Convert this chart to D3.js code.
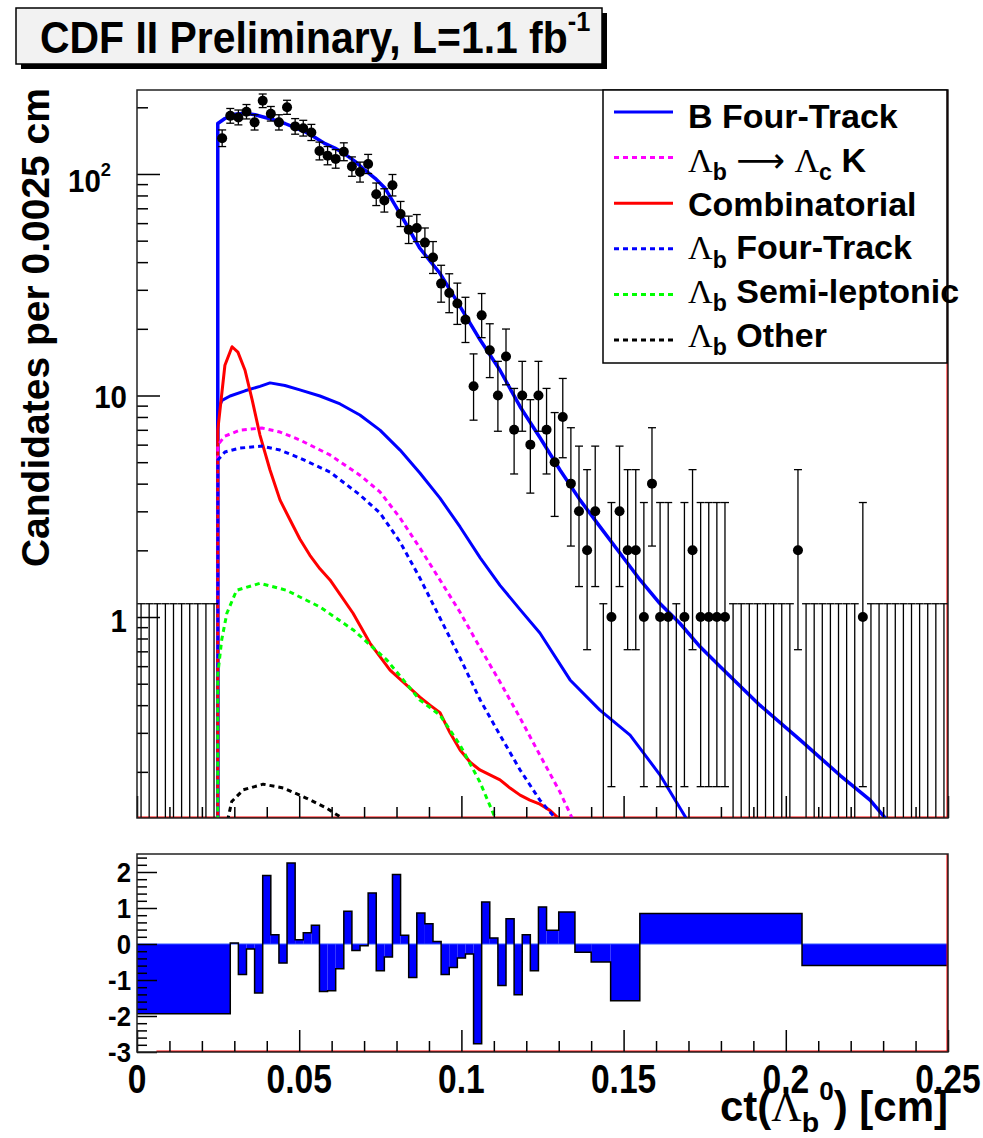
<!DOCTYPE html>
<html><head><meta charset="utf-8">
<script src="https://cdn.jsdelivr.net/npm/d3@7"></script>
<style>
body{margin:0;background:#fff;}
svg{display:block;font-family:"Liberation Sans",Arial,Helvetica,sans-serif;font-weight:bold;}
</style></head><body>
<svg id="c" width="983" height="1138"></svg>
<script>
// ---- measured counts per 0.0025 cm bin (100 bins, 0 to 0.25 cm) ----
const binWidth = 0.0025;
const counts = [0,0,0,0,0,0,0,0,0,0,
  145,183,180,191,171,214,187,171,200,164,
  161,154,127,121,117,126,108,102,111,81,
  76,89,66,56,57,49,42,32,29,26,
  22,11,23,16,10,15,7,10,6,10,
  7,5,8,4,3,2,3,0,1,3,
  2,2,1,4,1,1,0,1,2,1,
  1,1,1,0,0,0,0,0,0,0,
  0,2,0,0,0,0,0,0,0,1,
  0,0,0,0,0,0,0,0,0,0];
const zeroUpper = 1.148;   // one-sided upper limit drawn for empty bins

// ---- fit components: [ct (cm), candidates per bin] ----
const fitTotal = [[0.0249,0.1],[0.0249,169],[0.0271,178],[0.0302,186],[0.0333,188],[0.0364,185],[0.0395,180],[0.0425,175],[0.0456,169],[0.0487,162],[0.0518,155],[0.0549,146],[0.0580,137],[0.0610,131],[0.0641,123],[0.0672,114],[0.0703,104],[0.0734,95.6],[0.0765,86.2],[0.0795,72.5],[0.0826,60.7],[0.0872,46.2],[0.0934,35.6],[0.0996,25.2],[0.1058,17.8],[0.1119,13.0],[0.1181,8.9],[0.1242,6.46],[0.1304,4.61],[0.1366,3.37],[0.1427,2.56],[0.1489,1.94],[0.1551,1.47],[0.1612,1.15],[0.1674,0.935],[0.1736,0.734],[0.1798,0.597],[0.192,0.40],[0.2044,0.279],[0.2167,0.193],[0.226,0.149],[0.2306,0.124],[0.232,0.1]];
const fitBFourTrack = [[0.0249,0.1],[0.0249,8.6],[0.0262,9.5],[0.0287,9.95],[0.0333,10.5],[0.0379,11.0],[0.0410,11.4],[0.0456,11.1],[0.0502,10.6],[0.0564,9.95],[0.0626,9.16],[0.0687,8.17],[0.0749,6.98],[0.0811,5.67],[0.0872,4.47],[0.0934,3.44],[0.0996,2.55],[0.1058,1.85],[0.1119,1.39],[0.1181,1.08],[0.1242,0.847],[0.1335,0.52],[0.1427,0.38],[0.1520,0.293],[0.1612,0.194],[0.1692,0.124],[0.170,0.1]];
const fitLcK = [[0.0249,0.1],[0.0249,5.98],[0.0271,6.56],[0.0318,6.98],[0.0385,7.13],[0.0441,6.84],[0.0502,6.30],[0.0595,5.39],[0.0687,4.37],[0.0749,3.67],[0.0811,2.80],[0.0872,2.05],[0.0934,1.47],[0.0996,1.05],[0.1058,0.724],[0.1119,0.509],[0.1181,0.350],[0.1242,0.238],[0.1304,0.162],[0.1341,0.124],[0.135,0.1]];
const fitComb = [[0.0249,0.1],[0.0249,6.98],[0.0271,13.7],[0.0293,16.6],[0.0311,15.7],[0.0333,13.0],[0.0355,9.55],[0.0379,6.63],[0.0410,4.61],[0.0441,3.37],[0.0472,2.74],[0.0502,2.25],[0.0533,1.9],[0.0564,1.65],[0.0595,1.47],[0.0666,1.04],[0.0718,0.763],[0.0780,0.576],[0.0872,0.435],[0.0903,0.40],[0.0934,0.37],[0.0965,0.30],[0.0996,0.251],[0.1027,0.221],[0.1057,0.204],[0.1088,0.194],[0.1119,0.184],[0.1150,0.169],[0.1181,0.157],[0.1211,0.149],[0.1242,0.143],[0.1273,0.134],[0.1298,0.124],[0.131,0.1]];
const fitLbFourTrack = [[0.0249,0.1],[0.0249,5.11],[0.0271,5.56],[0.0318,5.79],[0.0385,5.91],[0.0441,5.67],[0.0502,5.22],[0.0595,4.51],[0.0687,3.56],[0.0749,2.95],[0.0811,2.18],[0.0872,1.50],[0.0934,0.99],[0.0996,0.653],[0.1058,0.422],[0.1119,0.293],[0.1181,0.204],[0.1242,0.149],[0.1289,0.124],[0.13,0.1]];
const fitSemiLep = [[0.0249,0.1],[0.0249,0.55],[0.0261,0.787],[0.0277,1.04],[0.0307,1.32],[0.0379,1.42],[0.0461,1.32],[0.0564,1.11],[0.0667,0.874],[0.0770,0.64],[0.0872,0.422],[0.0934,0.361],[0.0996,0.264],[0.1057,0.180],[0.1104,0.124],[0.111,0.1]];
const fitOther = [[0.0278,0.1],[0.0281,0.124],[0.0292,0.147],[0.0328,0.166],[0.0389,0.176],[0.0451,0.169],[0.0523,0.152],[0.0585,0.137],[0.0631,0.124],[0.064,0.1]];

// ---- residuals (variable bins) ----
const resEdges = [0,0.02875,0.03125,0.03375,0.03625,0.03875,0.04125,0.04375,0.04625,0.04875,0.05125,
  0.05375,0.05625,0.05875,0.06125,0.06375,0.06625,0.06875,0.07125,0.07375,0.07625,
  0.07875,0.08125,0.08375,0.08625,0.08875,0.09125,0.09375,0.09625,0.09875,0.10125,
  0.10375,0.10625,0.10875,0.11125,0.11375,0.11625,0.11875,0.12125,0.12375,0.12625,
  0.13,0.135,0.14,0.146,0.155,0.205,0.25];
const resValues = [-1.94,0.03,-0.85,-0.14,-1.36,1.90,0.26,-0.53,2.25,0.12,
  0.31,0.52,-1.32,-1.30,-0.69,0.91,-0.18,-0.05,1.42,-0.74,
  -0.36,1.93,0.24,-0.93,0.86,0.56,0.07,-0.85,-0.65,-0.39,
  -0.28,-2.77,1.17,0.17,-1.15,0.70,-1.41,0.26,-0.74,1.03,
  0.38,0.89,-0.23,-0.50,-1.575,0.85,-0.60];

// ---- axis ticks & labels ----
const xMajor = [0,0.05,0.1,0.15,0.2,0.25];
const xMajorLabels = ["0","0.05","0.1","0.15","0.2","0.25"];
const yDecades = [1,10,100];
const yMinorMult = [2,3,4,5,6,7,8,9];
const resMajor = [-3,-2,-1,0,1,2];
const resMajorLabels = ["-3","-2","-1","0","1","2"];

// ---- legend ----
const legendLabels = [
  [["B Four-Track"]],
  [["Λ","g"],["b","sub"],[" "],["⟶","arrow"],[" "],["Λ","g"],["c","sub"],[" K"]],
  [["Combinatorial"]],
  [["Λ","g"],["b","sub"],[" Four-Track"]],
  [["Λ","g"],["b","sub"],[" Semi-leptonic"]],
  [["Λ","g"],["b","sub"],[" Other"]]
];
const legendColors = ["#0000ff","#ff00ff","#ff0000","#0000ff","#00ff00","#000000"];
const legendDashed = [false,true,false,true,true,true];

// ---------------- drawing ----------------
const svg = d3.select("#c");
const M = {l:137, r:948, t:90, b:818};
const R = {l:137, r:948, t:854, b:1052};

const x = d3.scaleLinear().domain([0,0.25]).range([M.l, M.r]);
const y = d3.scaleLog().domain([0.1238,239.4]).range([M.b, M.t]);
const yr = d3.scaleLinear().domain([-3,2.5]).range([R.b, R.t]);

svg.append("rect").attr("width",983).attr("height",1138).attr("fill","#fff");

const defs = svg.append("defs");
defs.append("clipPath").attr("id","clipMain").append("rect")
  .attr("x",M.l).attr("y",M.t).attr("width",M.r-M.l).attr("height",M.b-M.t);
defs.append("clipPath").attr("id","clipRes").append("rect")
  .attr("x",R.l).attr("y",R.t).attr("width",R.r-R.l).attr("height",R.b-R.t);

// rich text helper: parts = [[text, kind], ...]; sx condenses horizontally
function richText(parent, px, py, size, parts, anchor, sx, subShift){
  const g = parent.append("g").attr("transform",`translate(${px},${py})`);
  const t = g.append("text").attr("font-size",size).attr("text-anchor",anchor||"start");
  let shift = 0;
  parts.forEach(([s,kind])=>{
    const ts = t.append("tspan").text(s);
    let target = 0;
    if(kind==="sub"){ ts.attr("font-size",size*0.68); target = size*(subShift||0.36); }
    else if(kind==="sup"){ ts.attr("font-size",size*0.62); target = -size*0.5; }
    else if(kind==="g"){ ts.attr("font-family","'Liberation Serif','DejaVu Serif',serif").attr("font-weight","normal"); }
    else if(kind==="arrow"){ ts.attr("font-family","'DejaVu Sans',sans-serif").attr("font-weight","normal"); }
    if(target!==shift){ ts.attr("dy",target-shift); shift = target; }
  });
  if(sx) t.attr("transform",`scale(${sx},1)`);
  return g;
}

// ---------- main pad ----------
const main = svg.append("g");
const plot = main.append("g").attr("clip-path","url(#clipMain)");

// red edge of combinatorial histogram along bottom and right side
plot.append("path").attr("d",`M${x(0)},${M.b-0.5}H${x(0.25)-0.5}V${M.t}`)
  .attr("fill","none").attr("stroke","#ff0000").attr("stroke-width",2);

const line = d3.line().x(d=>x(d[0])).y(d=>y(d[1]));
function curve(data,color,w,dash){
  const p = plot.append("path").datum(data).attr("d",line)
    .attr("fill","none").attr("stroke",color).attr("stroke-width",w)
    .attr("stroke-linejoin","round");
  if(dash) p.attr("stroke-dasharray",dash);
}
curve(fitTotal,"#0000ff",3.5);
curve(fitBFourTrack,"#0000ff",3);
curve(fitComb,"#ff0000",3);
curve(fitLcK,"#ff00ff",3,"5,4");
curve(fitLbFourTrack,"#0000ff",3,"5,4");
curve(fitSemiLep,"#00ff00",3,"5,4");
curve(fitOther,"#000000",3,"5,4");

// Poisson (Garwood) intervals
function poisLo(n){ if(n===0) return 0; const a=1-1/(9*n)-1/(3*Math.sqrt(n)); return n*a*a*a; }
function poisHi(n){ if(n===0) return zeroUpper; const m=n+1; const a=1-1/(9*m)+1/(3*Math.sqrt(m)); return m*a*a*a; }

const pts = counts.map((c,i)=>({x:(i+0.5)*binWidth, n:c, lo:poisLo(c), hi:poisHi(c)}));
const yc = v => v<=0 ? M.b+40 : y(v);
const eb = plot.append("g").attr("stroke","#000").attr("stroke-width",1.3);
pts.forEach(p=>{
  const cx = x(p.x);
  eb.append("line").attr("x1",cx).attr("x2",cx).attr("y1",yc(p.lo)).attr("y2",yc(p.hi));
  eb.append("line").attr("x1",cx-4).attr("x2",cx+4).attr("y1",yc(p.hi)).attr("y2",yc(p.hi));
  if(p.n>0) eb.append("line").attr("x1",cx-4).attr("x2",cx+4).attr("y1",yc(p.lo)).attr("y2",yc(p.lo));
});
plot.append("g").selectAll("circle").data(pts.filter(p=>p.n>0)).join("circle")
  .attr("cx",p=>x(p.x)).attr("cy",p=>y(p.n)).attr("r",5).attr("fill","#000");

// axes of the main pad (ticks point into the frame)
const yMinorVals = [];
[0.1,1,10,100].forEach(d=>yMinorMult.forEach(m=>{const v=d*m; if(v>y.domain()[0]&&v<y.domain()[1]) yMinorVals.push(v);}));
function ticks(g0, axis, pos, vals, size){
  g0.append("g").attr("transform",pos)
    .call(axis.tickValues(vals).tickSize(size).tickFormat(""))
    .call(g=>g.select(".domain").remove())
    .selectAll("line").attr("stroke","#000").attr("stroke-width",1.5);
}
ticks(main, d3.axisLeft(y), `translate(${M.l},0)`, yDecades, -23);
ticks(main, d3.axisLeft(y), `translate(${M.l},0)`, yMinorVals, -11);
const xMinor = d3.range(0,0.2501,0.01).filter(v=>Math.abs(v*20-Math.round(v*20))>1e-6);
function xTicks(g0, yb){
  ticks(g0, d3.axisBottom(x), `translate(0,${yb})`, xMajor, -22);
  ticks(g0, d3.axisBottom(x), `translate(0,${yb})`, xMinor, -11);
}
xTicks(main, M.b);
main.append("rect").attr("x",M.l).attr("y",M.t).attr("width",M.r-M.l).attr("height",M.b-M.t)
  .attr("fill","none").attr("stroke","#222").attr("stroke-width",1.5);

// y labels
richText(main, 111, y(100)+18, 31, [["10"],["2","sup"]], "end", 0.95);
richText(main, 127, y(10)+12, 31, [["10"]], "end", 0.95);
richText(main, 127, y(1)+15, 31, [["1"]], "end", 0.95);

// y title
const ytitle = richText(main, 0, 0, 39, [["Candidates per 0.0025 cm"]], "end");
ytitle.attr("transform",`translate(49,${M.t-2}) rotate(-90)`);

// legend
const lg = main.append("g");
lg.append("rect").attr("x",603).attr("y",M.t).attr("width",344).attr("height",273)
  .attr("fill","#fff").attr("stroke","#000").attr("stroke-width",1.5);
const rowY = d3.scalePoint().domain(d3.range(legendLabels.length)).range([112,340]);
const rowText = d3.scalePoint().domain(d3.range(legendLabels.length)).range([128,347]);
legendLabels.forEach((parts,i)=>{
  const yy = rowY(i);
  const l = lg.append("line").attr("x1",614).attr("x2",673).attr("y1",yy).attr("y2",yy)
    .attr("stroke",legendColors[i]).attr("stroke-width",3);
  if(legendDashed[i]) l.attr("stroke-dasharray","5,4");
  richText(lg, 688, rowText(i), 34, parts, "start", null, 0.24);
});

// ---------- residual pad ----------
const res = svg.append("g");
const rp = res.append("g").attr("clip-path","url(#clipRes)");
const bins = resValues.map((v,i)=>({x0:resEdges[i], x1:resEdges[i+1], v}));
rp.append("g").selectAll("rect").data(bins).join("rect")
  .attr("x",b=>x(b.x0)).attr("width",b=>x(b.x1)-x(b.x0))
  .attr("y",b=>yr(Math.max(0,b.v))).attr("height",b=>Math.abs(yr(b.v)-yr(0)))
  .attr("fill","#0000ff");
rp.append("line").attr("x1",R.l).attr("x2",R.r).attr("y1",yr(0)).attr("y2",yr(0))
  .attr("stroke","#3355ff").attr("stroke-width",1);
const stepPts = [];
bins.forEach(b=>{stepPts.push([b.x0,b.v]); stepPts.push([b.x1,b.v]);});
rp.append("path").datum(stepPts)
  .attr("d",d3.line().x(d=>x(d[0])).y(d=>yr(d[1])))
  .attr("fill","none").attr("stroke","#000").attr("stroke-width",1.5);
rp.append("path").attr("d",`M${x(0.006)},${R.b-0.5}H${x(0.25)-0.5}V${R.t}`)
  .attr("fill","none").attr("stroke","#ff0000").attr("stroke-width",2);

const resMinor = d3.range(-3,2.5,0.2).map(v=>+v.toFixed(2)).filter(v=>Math.abs(v-Math.round(v))>1e-6);
ticks(res, d3.axisLeft(yr), `translate(${R.l},0)`, resMajor, -20);
ticks(res, d3.axisLeft(yr), `translate(${R.l},0)`, resMinor, -10);
xTicks(res, R.b);
res.append("rect").attr("x",R.l).attr("y",R.t).attr("width",R.r-R.l).attr("height",R.b-R.t)
  .attr("fill","none").attr("stroke","#222").attr("stroke-width",1.5);

resMajor.forEach((v,i)=>richText(res, 131, yr(v)+10, 28, [[resMajorLabels[i]]], "end", 0.92));
xMajor.forEach((v,i)=>richText(res, x(v), 1093, 40, [[xMajorLabels[i]]], "middle", 0.84));

// x title
richText(svg, 948, 1121, 42, [["ct("],["Λ","g"],["b","sub"],["0","sup"],[") [cm]"]], "end", 1.0, 0.27);

// ---------- title box ----------
const tb = svg.append("g");
tb.append("rect").attr("x",21).attr("y",13).attr("width",586).attr("height",56).attr("fill","#000");
tb.append("rect").attr("x",16).attr("y",8).attr("width",586).attr("height",56)
  .attr("fill","#f2f2f2").attr("stroke","#000").attr("stroke-width",1.5);
richText(tb, 40, 53, 44, [["CDF II Preliminary, L=1.1 fb"],["-1","sup"]], "start", 0.93);
</script>
</body></html>
